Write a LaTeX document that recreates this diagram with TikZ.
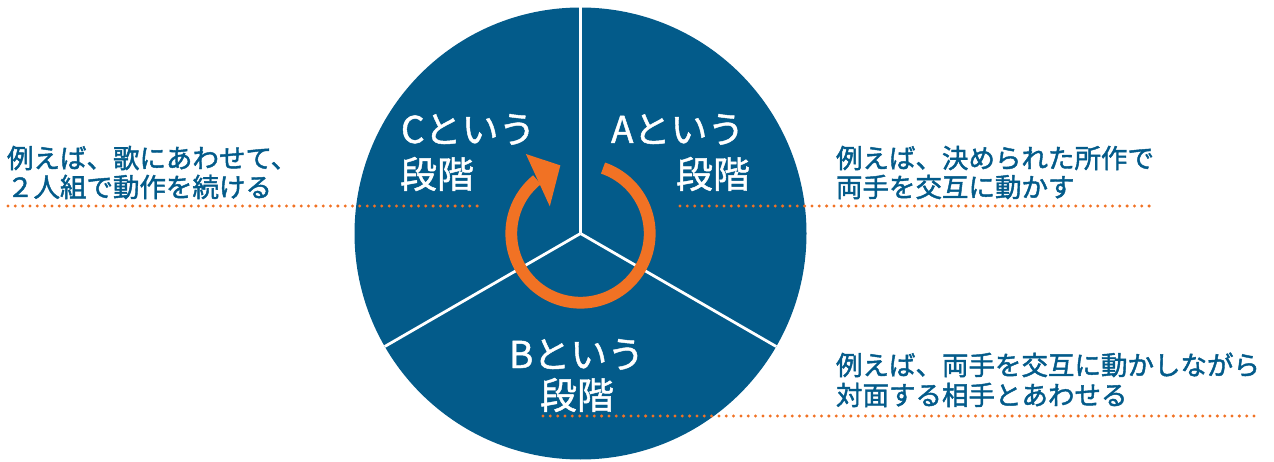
\documentclass[tikz,border=0pt]{standalone}
\usepackage{fontspec}
\setmainfont{Noto Sans CJK JP}
\newfontfamily\labelfont{Noto Sans CJK JP}[FakeBold=1.2]
\newfontfamily\descfont{Noto Sans CJK JP}[FakeBold=1.6]
\definecolor{myblue}{RGB}{3,91,138}
\definecolor{myorange}{RGB}{241,114,36}
\begin{document}
\begin{tikzpicture}[x=1pt,y=1pt,
  lbl/.style={inner sep=0pt, outer sep=0pt, text=white, font=\labelfont\fontsize{37}{44}\selectfont, anchor=base west},
  desc/.style={inner sep=0pt, outer sep=0pt, text=myblue, font=\descfont\fontsize{26.5}{30}\selectfont, anchor=base west},
  dotline/.style={draw=myorange, line width=3.3pt, line cap=round, dash pattern=on 0pt off 7.33pt},
  sepline/.style={draw=white, line width=2.8pt},
  ring/.style={draw=myorange, line width=11.8pt}]
\useasboundingbox (0,0) rectangle (1274,461);
\coordinate (O) at (580.5,227.5);
% main disc
\fill[myblue] (O) circle (226);
% separators
\coordinate (T) at ([shift={(90:226)}]O);
\coordinate (L) at ([shift={(210:226)}]O);
\coordinate (R) at ([shift={(330:226)}]O);
\draw[sepline] (O) -- (T);
\draw[sepline] (O) -- (L);
\draw[sepline] (O) -- (R);
% orange cycle arrow
\draw[ring] ([shift={(71:69.2)}]O) arc[start angle=71, end angle=-231, radius=69.2];
\fill[myorange] ([shift={(124.5:96.5)}]O) -- ([shift={(106.5:71)}]O) -- ([shift={(138.5:41)}]O) -- cycle;
% segment labels
\node[lbl] (a1) at (611,318) {Aという};
\node[lbl] (a2) at (676,273) {段階};
\node[lbl] (c1) at (401,318) {Cという};
\node[lbl] (c2) at (400,273) {段階};
\node[lbl] (b1) at (509,93) {Bという};
\node[lbl] (b2) at (540,52) {段階};
% dotted guide lines
\coordinate (dl1) at (8,255);
\coordinate (dl2) at (480,255);
\coordinate (dr1) at (680,255);
\coordinate (dr2) at (1153,255);
\coordinate (db1) at (543,45);
\coordinate (db2) at (1257,45);
\draw[dotline] (dl1) -- (dl2);
\draw[dotline] (dr1) -- (dr2);
\draw[dotline] (db1) -- (db2);
% descriptions
\node[desc] (cl1) at (7,293) {例えば、歌にあわせて、};
\node[desc] (cl2) at (7,264) {２人組で動作を続ける};
\node[desc] (al1) at (836,293) {例えば、決められた所作で};
\node[desc] (al2) at (836,264) {両手を交互に動かす};
\node[desc] (bl1) at (836,86) {例えば、両手を交互に動かしながら};
\node[desc] (bl2) at (836,56) {対面する相手とあわせる};
\end{tikzpicture}
\end{document}
